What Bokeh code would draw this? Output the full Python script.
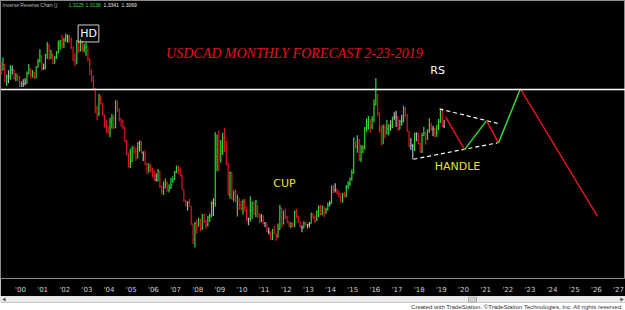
from bokeh.plotting import figure
from bokeh.models import Span, Label, FixedTicker, ColumnDataSource, Range1d
from bokeh.layouts import column
from bokeh.embed import file_html
from bokeh.resources import INLINE

# ---------------- data (USDCAD monthly, Feb 1999 .. Feb 2019) ----------------
start_year = 1999
start_month = 2
open_first = 1.520

closes = [
    1.497, 1.512, 1.458, 1.472, 1.474, 1.497, 1.494, 1.468, 1.474, 1.470, 1.444,
    1.449, 1.452, 1.452, 1.484, 1.497, 1.480, 1.485, 1.470, 1.505, 1.523, 1.540, 1.500,
    1.503, 1.541, 1.576, 1.537, 1.544, 1.518, 1.532, 1.549, 1.579, 1.590, 1.576, 1.592,
    1.601, 1.602, 1.594, 1.569, 1.528, 1.520, 1.582, 1.559, 1.585, 1.563, 1.567, 1.572,
    1.531, 1.488, 1.469, 1.434, 1.370, 1.354, 1.401, 1.387, 1.351, 1.318, 1.300, 1.291,
    1.328, 1.338, 1.309, 1.372, 1.363, 1.336, 1.331, 1.309, 1.264, 1.222, 1.192, 1.199,
    1.240, 1.232, 1.210, 1.257, 1.254, 1.226, 1.224, 1.190, 1.161, 1.181, 1.169, 1.163,
    1.139, 1.136, 1.167, 1.118, 1.103, 1.115, 1.130, 1.106, 1.115, 1.122, 1.140, 1.165,
    1.180, 1.170, 1.154, 1.108, 1.070, 1.064, 1.067, 1.055, 0.995, 0.945, 0.998, 0.989,
    1.000, 0.980, 1.027, 1.007, 0.992, 1.018, 1.023, 1.063, 1.063, 1.215, 1.236, 1.224,
    1.231, 1.275, 1.260, 1.193, 1.091, 1.163, 1.077, 1.096, 1.071, 1.082, 1.056, 1.047,
    1.068, 1.051, 1.016, 1.014, 1.040, 1.065, 1.030, 1.068, 1.029, 1.020, 1.022, 0.999,
    1.000, 0.972, 0.970, 0.947, 0.969, 0.965, 0.956, 0.980, 1.048, 0.997, 1.022, 1.018,
    1.002, 0.989, 0.997, 0.987, 1.034, 1.018, 1.002, 0.986, 0.983, 0.999, 0.993, 0.995,
    0.997, 1.031, 1.016, 1.007, 1.037, 1.051, 1.027, 1.053, 1.030, 1.042, 1.061, 1.063,
    1.114, 1.108, 1.105, 1.096, 1.084, 1.067, 1.091, 1.087, 1.120, 1.127, 1.143, 1.162,
    1.271, 1.250, 1.267, 1.207, 1.244, 1.250, 1.307, 1.315, 1.333, 1.308, 1.335, 1.384,
    1.401, 1.353, 1.298, 1.255, 1.308, 1.292, 1.305, 1.311, 1.312, 1.342, 1.343, 1.342,
    1.302, 1.328, 1.331, 1.367, 1.350, 1.297, 1.248, 1.251, 1.248, 1.289, 1.289, 1.257,
    1.230, 1.283, 1.290, 1.284, 1.297, 1.315, 1.302, 1.305, 1.291, 1.314, 1.328, 1.364,
    1.313, 1.3125,
]
highs = [
    1.522, 1.535, 1.515, 1.480, 1.494, 1.510, 1.510, 1.498, 1.485, 1.482, 1.475,
    1.458, 1.465, 1.468, 1.490, 1.513, 1.500, 1.495, 1.488, 1.507, 1.531, 1.562, 1.542,
    1.516, 1.547, 1.585, 1.580, 1.560, 1.548, 1.540, 1.556, 1.590, 1.592, 1.608, 1.599,
    1.613, 1.610, 1.608, 1.600, 1.570, 1.549, 1.592, 1.590, 1.594, 1.590, 1.580, 1.583,
    1.572, 1.534, 1.497, 1.477, 1.437, 1.380, 1.418, 1.413, 1.389, 1.351, 1.333, 1.315,
    1.340, 1.353, 1.349, 1.397, 1.396, 1.371, 1.340, 1.332, 1.312, 1.268, 1.228, 1.240,
    1.248, 1.250, 1.242, 1.261, 1.267, 1.265, 1.232, 1.235, 1.195, 1.194, 1.190, 1.178,
    1.170, 1.160, 1.174, 1.169, 1.122, 1.134, 1.144, 1.134, 1.125, 1.145, 1.150, 1.168,
    1.186, 1.185, 1.180, 1.156, 1.110, 1.075, 1.070, 1.077, 1.055, 0.998, 1.003, 1.011,
    1.017, 1.013, 1.028, 1.029, 1.010, 1.023, 1.030, 1.070, 1.080, 1.293, 1.286, 1.300,
    1.268, 1.292, 1.307, 1.265, 1.195, 1.167, 1.165, 1.105, 1.109, 1.092, 1.080, 1.071,
    1.076, 1.078, 1.054, 1.017, 1.086, 1.068, 1.069, 1.074, 1.058, 1.030, 1.029, 1.025,
    1.003, 0.998, 0.985, 0.972, 0.981, 0.990, 0.966, 0.998, 1.058, 1.049, 1.040, 1.046,
    1.022, 1.006, 1.002, 1.002, 1.040, 1.046, 1.022, 1.005, 0.992, 1.005, 1.003, 0.997,
    1.003, 1.033, 1.031, 1.024, 1.040, 1.056, 1.058, 1.057, 1.053, 1.049, 1.066, 1.072,
    1.122, 1.122, 1.128, 1.111, 1.104, 1.096, 1.097, 1.100, 1.122, 1.135, 1.147, 1.173,
    1.276, 1.265, 1.284, 1.272, 1.253, 1.250, 1.310, 1.338, 1.346, 1.336, 1.345, 1.399,
    1.469, 1.417, 1.358, 1.315, 1.318, 1.318, 1.333, 1.320, 1.332, 1.343, 1.358, 1.363,
    1.345, 1.334, 1.350, 1.379, 1.375, 1.352, 1.297, 1.275, 1.256, 1.292, 1.293, 1.292,
    1.260, 1.292, 1.311, 1.295, 1.303, 1.339, 1.325, 1.314, 1.309, 1.316, 1.336, 1.366,
    1.366, 1.3341,
]
lows = [
    1.480, 1.492, 1.455, 1.443, 1.452, 1.463, 1.480, 1.465, 1.458, 1.458, 1.440,
    1.440, 1.440, 1.445, 1.450, 1.480, 1.467, 1.470, 1.466, 1.468, 1.502, 1.518, 1.493,
    1.495, 1.497, 1.530, 1.527, 1.530, 1.513, 1.515, 1.530, 1.549, 1.560, 1.565, 1.565,
    1.585, 1.584, 1.583, 1.563, 1.522, 1.507, 1.513, 1.551, 1.555, 1.555, 1.552, 1.541,
    1.523, 1.478, 1.457, 1.430, 1.356, 1.332, 1.345, 1.382, 1.347, 1.308, 1.290, 1.290,
    1.277, 1.305, 1.303, 1.306, 1.360, 1.329, 1.311, 1.303, 1.262, 1.219, 1.179, 1.178,
    1.197, 1.222, 1.201, 1.209, 1.231, 1.225, 1.200, 1.186, 1.160, 1.164, 1.164, 1.147,
    1.136, 1.135, 1.135, 1.114, 1.093, 1.090, 1.112, 1.101, 1.098, 1.110, 1.130, 1.139,
    1.161, 1.158, 1.150, 1.108, 1.068, 1.053, 1.040, 1.052, 0.995, 0.932, 0.920, 0.965,
    0.988, 0.973, 0.977, 0.999, 0.980, 0.988, 1.003, 1.018, 1.022, 1.052, 1.167, 1.167,
    1.195, 1.220, 1.230, 1.185, 1.090, 1.078, 1.076, 1.068, 1.067, 1.021, 1.042, 1.040,
    1.026, 1.036, 1.005, 0.992, 1.004, 1.012, 1.026, 1.018, 1.017, 1.000, 1.002, 0.995,
    0.986, 0.970, 0.962, 0.946, 0.945, 0.965, 0.942, 0.952, 0.977, 0.985, 0.995, 1.012,
    0.999, 0.986, 0.983, 0.987, 0.987, 1.015, 1.000, 0.985, 0.970, 0.983, 0.990, 0.982,
    0.985, 0.997, 1.014, 1.000, 1.006, 1.018, 1.025, 1.025, 1.018, 1.030, 1.040, 1.053,
    1.062, 1.096, 1.098, 1.093, 1.083, 1.066, 1.067, 1.081, 1.083, 1.109, 1.120, 1.136,
    1.158, 1.240, 1.227, 1.200, 1.197, 1.225, 1.237, 1.295, 1.301, 1.292, 1.303, 1.326,
    1.380, 1.346, 1.292, 1.251, 1.256, 1.274, 1.286, 1.283, 1.298, 1.306, 1.332, 1.310,
    1.299, 1.302, 1.315, 1.325, 1.341, 1.294, 1.245, 1.236, 1.206, 1.233, 1.264, 1.254,
    1.227, 1.226, 1.281, 1.253, 1.268, 1.292, 1.298, 1.280, 1.277, 1.278, 1.300, 1.323,
    1.310, 1.3069,
]

rs_level = 1.432

# handle (triangle) lines
tri_upper_x = [2018.92, 2021.54]
tri_upper_y = [1.369, 1.322]
tri_lower_x = [2017.74, 2021.54]
tri_lower_y = [1.206, 1.259]

# forecast path
fc_x = [2019.19, 2020.05, 2021.04, 2021.58, 2022.57, 2026.05]
fc_y = [1.343, 1.237, 1.331, 1.259, 1.434, 1.021]

year_ticks = list(range(2000, 2028))
year_labels = ["'%02d" % (y - 2000) for y in year_ticks]

header_name = "Inverse Reverse Chart ()"
header_values = ["1.3125", "1.3138", "1.3341", "1.3069"]

# ---------------- build bars ----------------
opens = [open_first] + closes[:-1]
xs, colors = [], []
for i in range(len(closes)):
    m = start_month - 1 + i
    xs.append(start_year + m // 12 + (m % 12) / 12.0 + 1 / 24.0)
    d = closes[i] - opens[i]
    if abs(d) < 0.004:
        colors.append("#b4b4b4")
    elif d > 0:
        colors.append("#33d633")
    else:
        colors.append("#e0141e")

src = ColumnDataSource(dict(x=xs, o=opens, h=highs, l=lows, c=closes, col=colors,
                            xl=[x - 0.03 for x in xs], xr=[x + 0.03 for x in xs]))

p = figure(width=625, height=296, output_backend="svg", toolbar_location=None,
           x_range=Range1d(1999.097, 2027.314), y_range=Range1d(0.8200, 1.7197),
           y_axis_location=None, min_border_left=0, min_border_right=0,
           min_border_top=0, min_border_bottom=9)
p.background_fill_color = "black"
p.border_fill_color = "black"
p.outline_line_color = "#8a8a8a"
p.grid.visible = False

p.xaxis.ticker = FixedTicker(ticks=year_ticks)
p.xaxis.major_label_overrides = {t: lab for t, lab in zip(year_ticks, year_labels)}
p.xaxis.major_label_text_color = "#cfcfcf"
p.xaxis.major_label_text_font_size = "7px"
p.xaxis.major_label_text_font = "DejaVu Sans"
p.xaxis.major_label_standoff = 1
p.xaxis.axis_line_color = None
p.xaxis.major_tick_line_color = None
p.xaxis.minor_tick_line_color = None

p.segment(x0="x", y0="l", x1="x", y1="h", color="col", line_width=1.2, source=src)
p.segment(x0="xl", y0="o", x1="x", y1="o", color="col", line_width=1, source=src)
p.segment(x0="x", y0="c", x1="xr", y1="c", color="col", line_width=1, source=src)

p.add_layout(Span(location=rs_level, dimension="width", line_color="white", line_width=1.5))

p.line(tri_upper_x, tri_upper_y, line_color="white", line_width=1.2, line_dash="4 3")
p.line(tri_lower_x, tri_lower_y, line_color="white", line_width=1.2, line_dash="4 3")

seg_cols = ["#e0141e", "#33d633", "#e0141e", "#33d633", "#e0141e"]
p.segment(x0=fc_x[:-1], y0=fc_y[:-1], x1=fc_x[1:], y1=fc_y[1:], color=seg_cols, line_width=1.5)

# annotations
p.add_layout(Label(x=2003.07, y=1.613, text="HD", text_color="white", text_font="DejaVu Sans",
                   text_font_size="11px", text_align="center", text_baseline="middle",
                   border_line_color="#d0d0d0", border_line_width=1, padding=2))
p.add_layout(Label(x=2012.37, y=1.547, text="USDCAD MONTHLY FORECAST 2-23-2019",
                   text_color="#e8101c", text_font="Liberation Serif", text_font_style="italic",
                   text_font_size="14px", text_align="center", text_baseline="middle"))
p.add_layout(Label(x=2018.83, y=1.494, text="RS", text_color="white", text_font="DejaVu Sans",
                   text_font_size="11px", text_align="center", text_baseline="middle"))
p.add_layout(Label(x=2011.92, y=1.127, text="CUP", text_color="#e8e22a", text_font="DejaVu Sans",
                   text_font_size="11px", text_align="center", text_baseline="middle"))
p.add_layout(Label(x=2019.73, y=1.181, text="HANDLE", text_color="#e8e22a", text_font="DejaVu Sans",
                   text_font_size="11px", text_align="center", text_baseline="middle"))

hx = [1999.19, 2002.167, 2002.935, 2003.747, 2004.560]
htexts = [header_name] + header_values
hcols = ["#bdbdbd", "#33d633", "#33d633", "#e8e8e8", "#e8e8e8"]
for x, t, c in zip(hx, htexts, hcols):
    p.add_layout(Label(x=x, y=1.704, text=t, text_color=c, text_font="Liberation Sans",
                       text_font_size="5px", text_align="left", text_baseline="middle"))

# ---------------- bottom strip: scroll bar + credit ----------------
q = figure(width=625, height=14, output_backend="svg", toolbar_location=None,
           x_range=Range1d(0, 625), y_range=Range1d(14, 0),
           x_axis_location=None, y_axis_location=None,
           min_border_left=0, min_border_right=0, min_border_top=0, min_border_bottom=0)
q.background_fill_color = "white"
q.border_fill_color = "white"
q.outline_line_color = None
q.grid.visible = False
q.quad(left=[0], right=[625], top=[0], bottom=[6], fill_color="#e9e9e9", line_color="#cccccc")
q.quad(left=[468], right=[476], top=[0.5], bottom=[5.5], fill_color="#d2d2d2", line_color="#a8a8a8")
q.scatter(x=[4, 621], y=[3, 3], marker="triangle", size=4, angle=[1.5708, -1.5708],
          fill_color="#555555", line_color=None)
q.text(x=[623], y=[10.3], text=["Created with TradeStation. \u00a9TradeStation Technologies, Inc. All rights reserved."],
       text_font_size="6px", text_color="#333333", text_align="right", text_baseline="middle")

layout = column(p, q, spacing=0)
open("out.html", "w").write(file_html(layout, INLINE))
